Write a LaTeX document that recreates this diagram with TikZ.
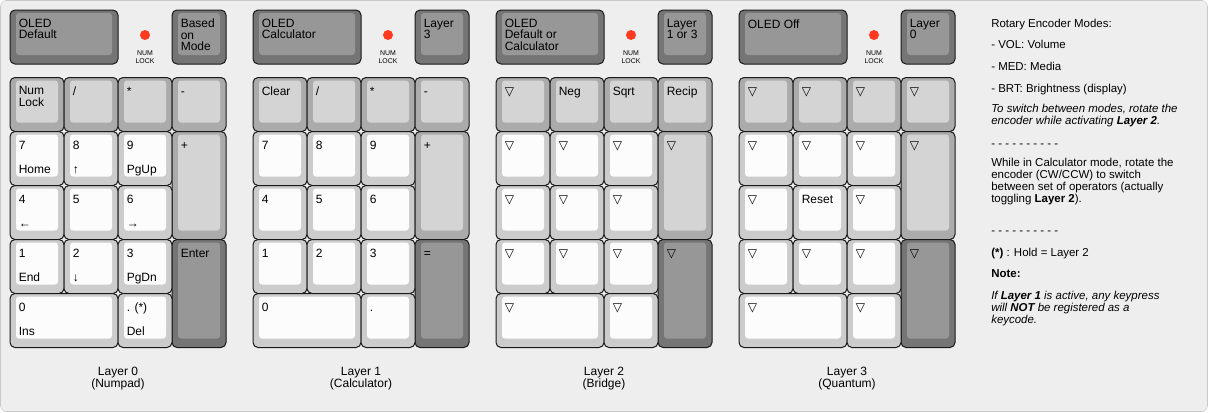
\documentclass[tikz,border=0pt]{standalone}
\usepackage{fontspec}
\setmainfont{Liberation Sans}
\newfontfamily\symfont{DejaVu Sans}
\definecolor{bgfill}{HTML}{EEEEEE}
\definecolor{bgline}{HTML}{C8C8C8}
\definecolor{gside}{HTML}{ABABAB}
\definecolor{gtop}{HTML}{D4D4D4}
\definecolor{wside}{HTML}{CCCCCC}
\definecolor{wtop}{HTML}{FCFCFC}
\definecolor{dside}{HTML}{757575}
\definecolor{dtop}{HTML}{979797}
\definecolor{ledred}{HTML}{FF3A1E}
\tikzset{
  keyline/.style={draw=black!90,line width=0.75pt,rounded corners=3.75pt},
  keylg/.style={anchor=north west,inner sep=0,align=left,font=\fontsize{9}{8.7}\selectfont,execute at begin node=\rule{0pt}{7pt}},
  keybot/.style={anchor=base west,inner sep=0,font=\fontsize{9}{8.7}\selectfont},
  note/.style={anchor=north west,inner sep=0,align=left,font=\fontsize{8.6}{9}\selectfont,execute at begin node=\rule{0pt}{7pt}},
  noteit/.style={note,font=\fontsize{8.6}{9}\selectfont\itshape},
  caption/.style={anchor=north,align=center,inner sep=0,font=\fontsize{9}{9}\selectfont,execute at begin node=\rule{0pt}{7pt}},
  ledlabel/.style={align=center,inner sep=0,font=\fontsize{5.2}{6}\selectfont}
}
\newcommand\tri{{\symfont ▽}}
% key: name, x, y (in key units), width, height, colour, top legend, bottom legend
\newcommand\kcap[8]{%
  \draw[keyline,fill=#6side] ({#2*54},{#3*54}) rectangle ++({#4*54},{#5*54});
  \fill[#6top,rounded corners=2.25pt] ({#2*54+6},{#3*54+3}) rectangle ++({#4*54-12},{#5*54-12});
  \node[keylg] (#1) at ({#2*54+8.5},{#3*54+8.7}) {#7};
  \if\relax\detokenize{#8}\relax\else
  \node[keybot] (#1b) at ({#2*54+8.5},{(#3+#5)*54-12}) {#8};\fi
}
\begin{document}
\begin{tikzpicture}[x=0.75pt,y=-0.75pt]
\useasboundingbox (0,0) rectangle (1208,412);
\draw[bgline,fill=bgfill,rounded corners=4.5pt] (0.5,0.5) rectangle (1207.5,411.5);
% num lock led and caption of every layer
\foreach \lx/\lyr/\sub in {10/0/Numpad,253/1/Calculator,496/2/Bridge,739/3/Quantum} {
  \fill[ledred] (\lx+135,35) circle (5);
  \node[ledlabel] (led\lyr) at (\lx+135,57) {NUM\\LOCK};
  \node[caption] (cap\lyr) at (\lx+108,367.2) {Layer \lyr\\(\sub)};
}
% layer 0
\begin{scope}[shift={(10,10)}]
\kcap{oledA}{0}{0}{2}{1}{d}{OLED\\Default}{}
\kcap{modeA}{3}{0}{1}{1}{d}{Based\\on\\Mode}{}
\kcap{numA}{0}{1.25}{1}{1}{g}{Num\\Lock}{}
\kcap{divA}{1}{1.25}{1}{1}{g}{/}{}
\kcap{mulA}{2}{1.25}{1}{1}{g}{*}{}
\kcap{subA}{3}{1.25}{1}{1}{g}{-}{}
\kcap{sevA}{0}{2.25}{1}{1}{w}{7}{Home}
\kcap{eigA}{1}{2.25}{1}{1}{w}{8}{↑}
\kcap{ninA}{2}{2.25}{1}{1}{w}{9}{PgUp}
\kcap{addA}{3}{2.25}{1}{2}{g}{+}{}
\kcap{fouA}{0}{3.25}{1}{1}{w}{4}{←}
\kcap{fivA}{1}{3.25}{1}{1}{w}{5}{}
\kcap{sixA}{2}{3.25}{1}{1}{w}{6}{→}
\kcap{oneA}{0}{4.25}{1}{1}{w}{1}{End}
\kcap{twoA}{1}{4.25}{1}{1}{w}{2}{↓}
\kcap{thrA}{2}{4.25}{1}{1}{w}{3}{PgDn}
\kcap{entA}{3}{4.25}{1}{2}{d}{Enter}{}
\kcap{zerA}{0}{5.25}{2}{1}{w}{0}{Ins}
\kcap{dotA}{2}{5.25}{1}{1}{w}{. (*)}{Del}
\end{scope}
% layer 1
\begin{scope}[shift={(253,10)}]
\kcap{oledB}{0}{0}{2}{1}{d}{OLED\\Calculator}{}
\kcap{modeB}{3}{0}{1}{1}{d}{Layer\\3}{}
\kcap{clrB}{0}{1.25}{1}{1}{g}{Clear}{}
\kcap{divB}{1}{1.25}{1}{1}{g}{/}{}
\kcap{mulB}{2}{1.25}{1}{1}{g}{*}{}
\kcap{subB}{3}{1.25}{1}{1}{g}{-}{}
\foreach \c/\r/\t in {0/2/7,1/2/8,2/2/9,0/3/4,1/3/5,2/3/6,0/4/1,1/4/2,2/4/3}
  \kcap{dB\t}{\c}{\r.25}{1}{1}{w}{\t}{};
\kcap{addB}{3}{2.25}{1}{2}{g}{+}{}
\kcap{eqB}{3}{4.25}{1}{2}{d}{=}{}
\kcap{zerB}{0}{5.25}{2}{1}{w}{0}{}
\kcap{dotB}{2}{5.25}{1}{1}{w}{.}{}
\end{scope}
% layer 2
\begin{scope}[shift={(496,10)}]
\kcap{oledC}{0}{0}{2}{1}{d}{OLED\\Default or\\Calculator}{}
\kcap{modeC}{3}{0}{1}{1}{d}{Layer\\1 or 3}{}
\kcap{trC}{0}{1.25}{1}{1}{g}{\tri}{}
\kcap{negC}{1}{1.25}{1}{1}{g}{Neg}{}
\kcap{sqrC}{2}{1.25}{1}{1}{g}{Sqrt}{}
\kcap{recC}{3}{1.25}{1}{1}{g}{Recip}{}
\foreach \c in {0,1,2} \foreach \r in {2,3,4}
  \kcap{tC\c\r}{\c}{\r.25}{1}{1}{w}{\tri}{};
\kcap{addC}{3}{2.25}{1}{2}{g}{\tri}{}
\kcap{entC}{3}{4.25}{1}{2}{d}{\tri}{}
\kcap{zerC}{0}{5.25}{2}{1}{w}{\tri}{}
\kcap{dotC}{2}{5.25}{1}{1}{w}{\tri}{}
\end{scope}
% layer 3
\begin{scope}[shift={(739,10)}]
\kcap{oledD}{0}{0}{2}{1}{d}{OLED Off}{}
\kcap{modeD}{3}{0}{1}{1}{d}{Layer\\0}{}
\foreach \c in {0,1,2,3}
  \kcap{gD\c}{\c}{1.25}{1}{1}{g}{\tri}{};
\foreach \c/\r in {0/2,1/2,2/2,0/3,2/3,0/4,1/4,2/4}
  \kcap{tD\c\r}{\c}{\r.25}{1}{1}{w}{\tri}{};
\kcap{rstD}{1}{3.25}{1}{1}{w}{Reset}{}
\kcap{addD}{3}{2.25}{1}{2}{g}{\tri}{}
\kcap{entD}{3}{4.25}{1}{2}{d}{\tri}{}
\kcap{zerD}{0}{5.25}{2}{1}{w}{\tri}{}
\kcap{dotD}{2}{5.25}{1}{1}{w}{\tri}{}
\end{scope}
% notes
\node[note] (modes) at (991,18.2) {Rotary Encoder Modes:};
\node[note] (vol) at (991,39) {- VOL: Volume};
\node[note] (med) at (991,60.7) {- MED: Media};
\node[note] (brt) at (991,82.4) {- BRT: Brightness (display)};
\node[noteit] (switch) at (991,104) {To switch between modes, rotate the\\encoder while activating \textbf{Layer 2}.};
\node[note] (dashA) at (991,137.7) {- - - - - - - - - -};
\node[note] (calc) at (991,158) {While in Calculator mode, rotate the\\encoder (CW/CCW) to switch\\between set of operators (actually\\toggling \textbf{Layer 2}).};
\node[note] (dashB) at (991,224.7) {- - - - - - - - - -};
\node[note] (hold) at (991,246.7) {\textbf{(*)} : Hold = Layer 2};
\node[note] (notehd) at (991,267.7) {\textbf{Note:}};
\node[noteit] (warn) at (991,290.7) {If \textbf{Layer 1} is active, any keypress\\will \textbf{NOT} be registered as a\\keycode.};
\end{tikzpicture}
\end{document}
